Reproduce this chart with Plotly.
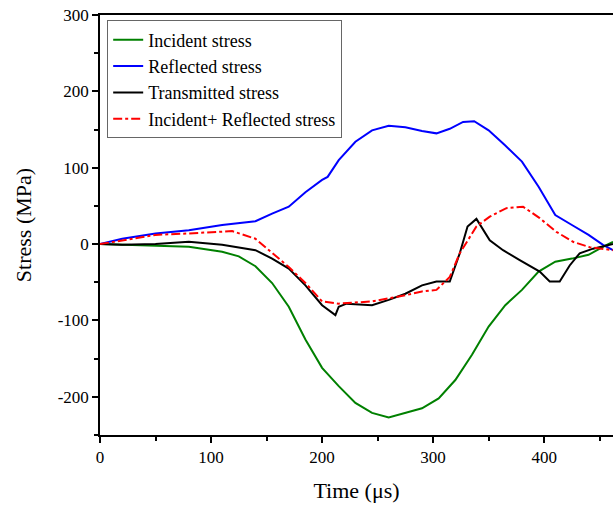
import plotly.graph_objects as go

# Time (µs) and stress (MPa) values
t_inc = [0, 20, 50, 80, 110, 125, 140, 155, 170, 185, 200, 215, 230, 245, 260, 275, 290, 305, 320, 335, 350, 365, 380, 395, 410, 425, 440, 455, 462]
s_inc = [0, -1, -2, -3.5, -10, -16, -29, -51, -82, -125, -162, -186, -208, -221, -227, -221, -215, -202, -178, -145, -108, -80, -60, -36, -23, -19, -14, -2, 3]

t_ref = [0, 20, 50, 80, 110, 140, 155, 170, 185, 200, 205, 215, 230, 245, 260, 275, 290, 303, 315, 327, 337, 350, 365, 380, 395, 410, 425, 440, 453, 462]
s_ref = [0, 7, 14, 18, 25, 30, 40, 49, 68, 84, 88, 110, 134, 149, 155, 153, 148, 145, 151, 160, 161, 149, 129, 108, 75, 38, 25, 12, -1, -8]

t_tra = [0, 20, 50, 80, 110, 140, 155, 170, 185, 200, 212, 215, 222, 245, 260, 275, 290, 303, 315, 324, 331, 339, 351, 363, 378, 396, 405, 414, 423, 432, 444, 459, 462]
s_tra = [0, -1, 0, 3, -1, -8, -19, -32, -54, -80, -93, -82, -78, -80, -73, -65, -54, -49, -49, -12, 23, 33, 5, -8, -21, -36, -49, -49, -28, -12, -6, -1, 0]

t_sum = [0, 20, 50, 80, 110, 119, 140, 155, 170, 185, 200, 215, 245, 275, 290, 303, 315, 324, 339, 351, 366, 381, 396, 411, 426, 441, 462]
s_sum = [0, 5, 12, 14, 16, 17, 7, -12, -30, -51, -75, -78, -75, -67, -62, -60, -43, -12, 23, 36, 47, 49, 34, 16, 3, -4, -8]

names = ["Incident stress", "Reflected stress", "Transmitted stress", "Incident+ Reflected stress"]
colors = ["#008000", "#0000FF", "#000000", "#FF0000"]

x_ticks = [0, 100, 200, 300, 400]
x_ticktext = ["0", "100", "200", "300", "400"]
y_ticks = [-200, -100, 0, 100, 200, 300]
y_ticktext = ["-200", "-100", "0", "100", "200", "300"]

fig = go.Figure()
series = [(t_inc, s_inc, "solid"), (t_ref, s_ref, "solid"), (t_tra, s_tra, "solid"), (t_sum, s_sum, "dashdot")]
for (tx, sy, dash), name, col in zip(series, names, colors):
    fig.add_trace(go.Scatter(x=tx, y=sy, mode="lines", name=name,
                             line=dict(color=col, width=2, dash=dash)))

font_family = "Liberation Serif"
fig.update_layout(
    width=613, height=509,
    margin=dict(l=100, r=0, t=15, b=74),
    paper_bgcolor="white", plot_bgcolor="white",
    font=dict(family=font_family, size=17, color="black"),
    showlegend=True,
    legend=dict(x=0.014, y=0.987, xanchor="left", yanchor="top",
                bordercolor="#666666", borderwidth=1, bgcolor="rgba(255,255,255,0)",
                font=dict(family=font_family, size=18, color="black"),
                tracegroupgap=0, itemwidth=30),
    xaxis=dict(range=[0, 462], showgrid=False, zeroline=False,
               showline=True, linecolor="black", linewidth=1.5, mirror=True,
               ticks="outside", ticklen=6, tickwidth=1.5, tickcolor="black",
               tickvals=x_ticks, ticktext=x_ticktext,
               tickfont=dict(family=font_family, size=17),
               minor=dict(ticks="outside", ticklen=4, tickwidth=1.5, dtick=50, tick0=0, tickcolor="black"),
               title=dict(text="Time (\u03bcs)", font=dict(size=22, family=font_family), standoff=16)),
    yaxis=dict(range=[-250, 300], showgrid=False, zeroline=False,
               showline=True, linecolor="black", linewidth=1.5, mirror=False,
               ticks="outside", ticklen=6, tickwidth=1.5, tickcolor="black",
               tickvals=y_ticks, ticktext=y_ticktext,
               tickfont=dict(family=font_family, size=17),
               minor=dict(ticks="outside", ticklen=4, tickwidth=1.5, dtick=50, tick0=0, tickcolor="black"),
               title=dict(text="Stress (MPa)", font=dict(size=22, family=font_family), standoff=20)),
)

fig.write_html("out.html", config={"displayModeBar": False},
               post_script="document.body.style.margin='0';document.body.style.overflow='hidden';")
